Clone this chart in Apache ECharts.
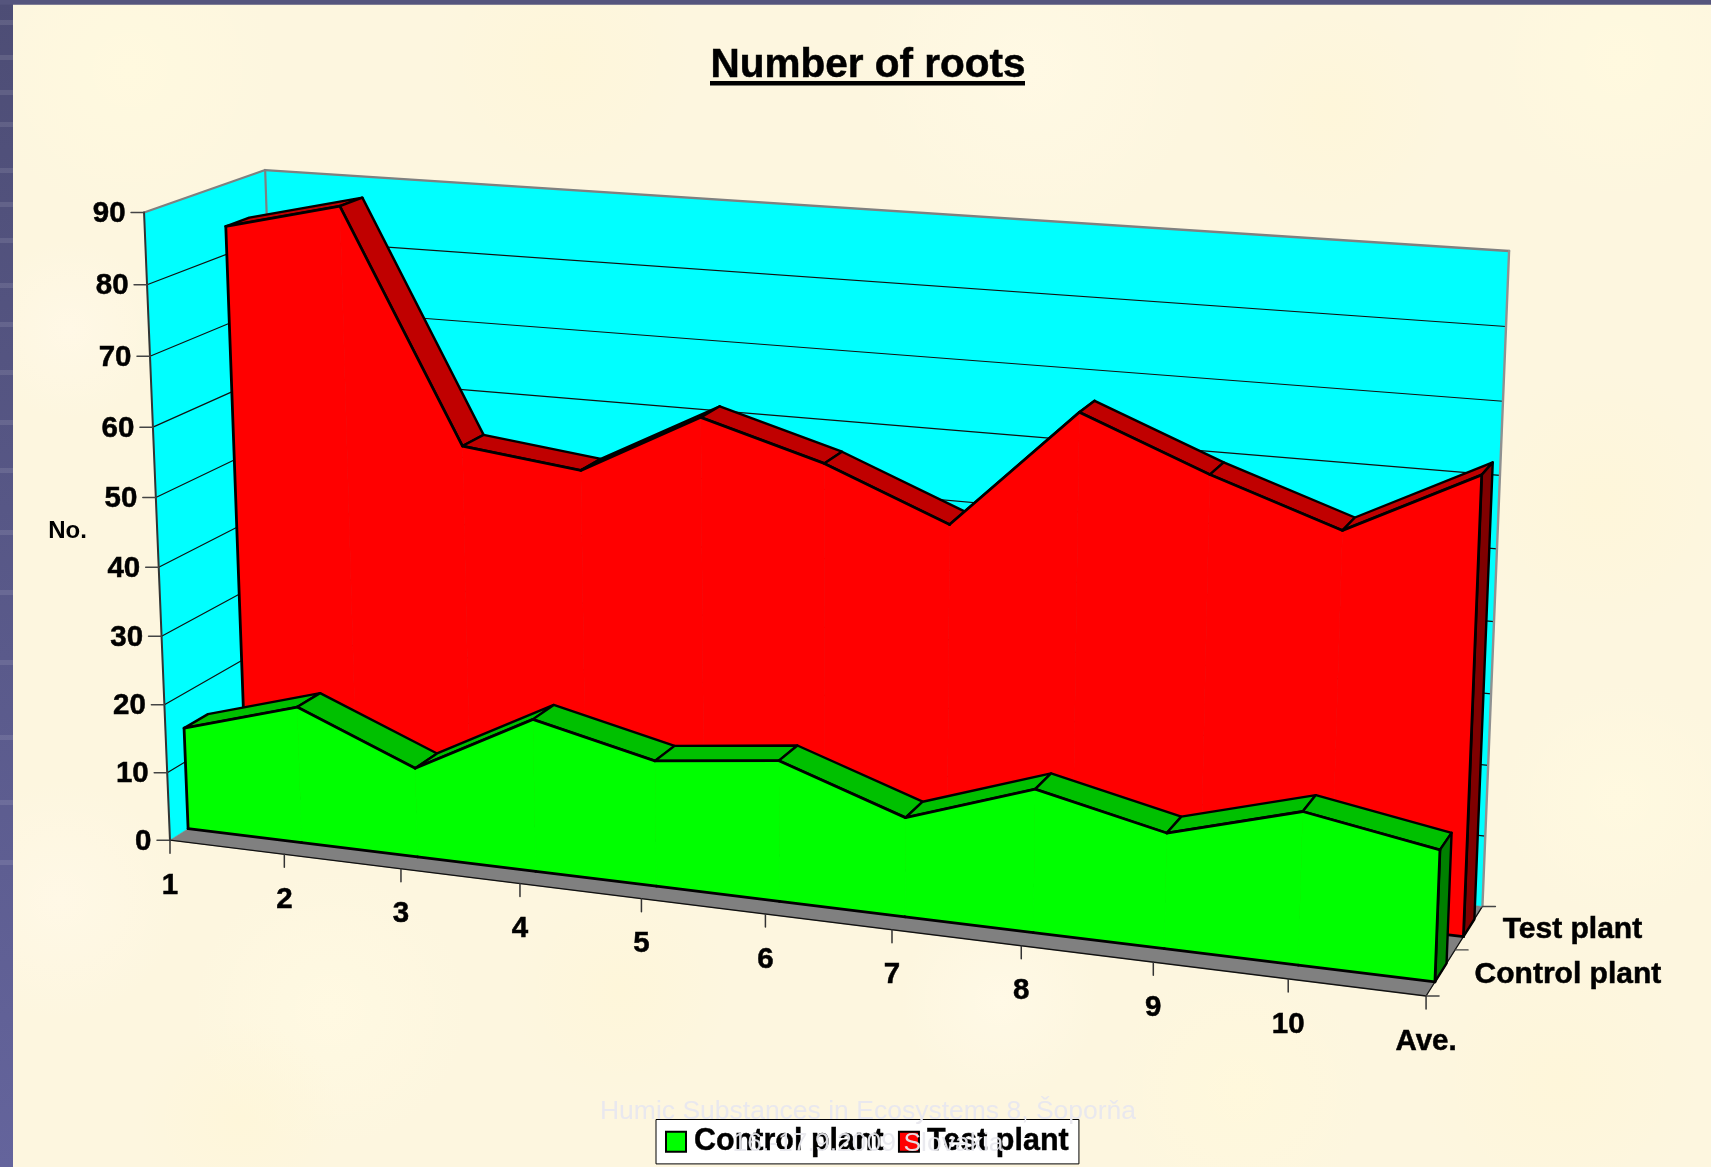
<!DOCTYPE html>
<html><head><meta charset="utf-8"><style>html,body{margin:0;padding:0;background:#fdf6df}#c{width:1711px;height:1167px}</style>
<script src="https://cdn.jsdelivr.net/npm/echarts@6/dist/echarts.min.js"></script></head>
<body><div id="c"></div>
<script>
// ---------- data ----------
const categories=['1','2','3','4','5','6','7','8','9','10','Ave.'];
const controlPlant=[15,20,13,22,18,20,14,20,16,21,17.9];
const testPlant=[84,88,55,53,62,57,50,67,60,54,63];
const valueTicks=[0,10,20,30,40,50,60,70,80,90];
const depthLabels=['Control plant','Test plant'];
const titleText='Number of roots';
const yName='No.';
const footerLines=['Humic Substances in Ecosystems 8, Šoporňa','16.-17.9.2009 Slovakia'];

// ---------- 3D view: projective camera calibrated from the frame ----------
const anchors=[[0,1,0,144,212.5],[0,0,0,170,840],[1,0,0,1425.7,995.7],[0,1,1,265,170],[1,1,1,1510,251],[1,0,1,1482,906],
[0,5/9,0,156,497],[0,2/9,0,165,705],[1,8/9,1,1505.7,326.7],[1,6/9,1,1499,475.7],[0.1,0,0,284,855],[0.5,0,0,765,914],[0.9,0,0,1287.6,979],[1,0,0.5,1457,950]];
function solve(A,b){const n=b.length;for(let i=0;i<n;i++){let m=i;for(let r=i+1;r<n;r++)if(Math.abs(A[r][i])>Math.abs(A[m][i]))m=r;[A[i],A[m]]=[A[m],A[i]];[b[i],b[m]]=[b[m],b[i]];for(let r=i+1;r<n;r++){const f=A[r][i]/A[i][i];for(let c=i;c<n;c++)A[r][c]-=f*A[i][c];b[r]-=f*b[i];}}const x=new Array(n);for(let i=n-1;i>=0;i--){let s=b[i];for(let c=i+1;c<n;c++)s-=A[i][c]*x[c];x[i]=s/A[i][i];}return x;}
const AtA=Array.from({length:11},()=>new Array(11).fill(0)),Atb=new Array(11).fill(0);
function add(row,t){for(let i=0;i<11;i++){Atb[i]+=row[i]*t;for(let j=0;j<11;j++)AtA[i][j]+=row[i]*row[j];}}
anchors.forEach(([X,Y,Z,sx,sy])=>{add([X,Y,Z,1,0,0,0,0,-sx*X,-sx*Y,-sx*Z],sx);add([0,0,0,0,X,Y,Z,1,-sy*X,-sy*Y,-sy*Z],sy);});
const cam=solve(AtA,Atb);
function proj(u,v,w){const d=cam[8]*u+cam[9]*v+cam[10]*w+1;return [(cam[0]*u+cam[1]*v+cam[2]*w+cam[3])/d,(cam[4]*u+cam[5]*v+cam[6]*w+cam[7])/d];}
// axis coordinate -> screen, through the grid's own scales
function pt(params,api,i,val,w){const c=api.coord([i,val]),s=params.coordSys;return proj((c[0]-s.x)/s.width,(s.y+s.height-c[1])/s.height,w);}

const FONT='"Liberation Sans", Arial, sans-serif';
const LAST=categories.length-1, MAXV=valueTicks[valueTicks.length-1];
const line=(a,b,stroke,lw,z2)=>({type:'line',silent:true,z2,shape:{x1:a[0],y1:a[1],x2:b[0],y2:b[1]},style:{stroke,lineWidth:lw,lineCap:'round'}});
const poly=(pts,fill,stroke,lw,z2)=>({type:'polygon',silent:true,z2,shape:{points:pts},style:{fill,stroke,lineWidth:lw,lineJoin:'round'}});
const label=(x,y,text,size,align)=>({type:'text',silent:true,z2:5,x,y,style:{text,font:'bold '+size+'px '+FONT,fill:'#000',stroke:'#000',lineWidth:0.5,align,verticalAlign:'middle',textAlign:align,textVerticalAlign:'middle'}});

function renderFrame(params,api){
  const val=api.value(1), ch=[];
  const P=(i,v,w)=>pt(params,api,i,v,w);
  if(params.dataIndex===0){
    ch.push(poly([P(0,0,0),P(0,MAXV,0),P(0,MAXV,1),P(0,0,1)],'#00ffff','#00ffff',0.5,0));
    ch.push(poly([P(0,0,1),P(0,MAXV,1),P(LAST,MAXV,1),P(LAST,0,1)],'#00ffff','#00ffff',0.5,0));
    ch.push(poly([P(0,0,0),P(LAST,0,0),P(LAST,0,1),P(0,0,1)],'#808080','#808080',0.5,1));
    ch.push(line(P(0,0,0),P(LAST,0,0),'#111',1.3,2));
    ch.push(line(P(LAST,0,0),P(LAST,0,1),'#111',1.3,2));
    ch.push(line(P(0,MAXV,0),P(0,MAXV,1),'#808080',2.2,3));
    ch.push(line(P(0,MAXV,1),P(LAST,MAXV,1),'#808080',2.4,3));
    ch.push(line(P(0,MAXV,1),P(0,0,1),'#808080',2.2,1));
    ch.push(line(P(LAST,MAXV,1),P(LAST,0,1),'#909090',2.4,3));
    ch.push(line(P(0,0,0),P(0,MAXV,0),'#333',2,3));
  }
  if(val>0&&val<MAXV){
    ch.push(line(P(0,val,0),P(0,val,1),'#111',1.2,2));
    ch.push(line(P(0,val,1),P(LAST,val,1),'#111',1.2,2));
  }
  const e=P(0,val,0);
  ch.push(line([e[0]-13,e[1]],e,'#444',1.5,3));
  ch.push(label(e[0]-18.5,e[1]+1.5,String(val),29.5,'right'));
  return {type:'group',children:ch};
}
function renderCat(params,api){
  const i=api.value(0),e=pt(params,api,i,0,0);
  return {type:'group',children:[line(e,[e[0],e[1]+13],'#333',1.5,3),label(e[0],e[1]+45.5,categories[i],29.5,'center')]};
}
function renderDepth(params,api){
  const k=params.dataIndex, ch=[];
  const D=w=>pt(params,api,LAST,0,w);
  if(k===0){const a=D(0);ch.push(line(a,[a[0]+13,a[1]],'#444',1.4,3));}
  const b=D(0.5*(k+1));ch.push(line(b,[b[0]+13,b[1]],'#444',1.4,3));
  const m=D(0.25+0.5*k);
  ch.push(label(m[0]+33.8,m[1]+1.7,depthLabels[k],30,'left'));
  return {type:'group',children:ch};
}
function renderArea(cfg){
  return function(params,api){
    const i=api.value(0),ch=[],vals=cfg.values;
    const F=(n,v)=>pt(params,api,n,v,cfg.w1),B=(n,v)=>pt(params,api,n,v,cfg.w2);
    const LW=2.8;
    if(i===0) ch.push(line(F(0,vals[0]),F(0,0),'#000',LW,6));
    if(i<LAST){
      const v0=api.value(1),v1=vals[i+1];
      ch.push(poly([F(i,v0),F(i+1,v1),B(i+1,v1),B(i,v0)],cfg.top,'#000',2.4,1));
      ch.push(poly([F(i,0),F(i,v0),F(i+1,v1),F(i+1,0)],cfg.front,cfg.front,0.8,4));
      ch.push(line(F(i,v0),F(i+1,v1),'#000',LW,6));
      ch.push(line(F(i,0),F(i+1,0),'#000',LW,6));
    }else{
      const v=api.value(1);
      ch.push(poly([F(i,0),F(i,v),B(i,v),B(i,0)],cfg.side,'#000',2.4,2));
      ch.push(line(F(i,v),F(i,0),'#000',LW,6));
    }
    return {type:'group',children:ch};
  };
}
const custom=(name,data,renderItem,z,color)=>({type:'custom',name,data,renderItem,z,clip:false,silent:true,animation:false,encode:{x:0,y:1},itemStyle:color?{color}:undefined});

// ---------- page decoration ----------
const deco=[{type:'rect',z:-5,shape:{x:0,y:0,width:1711,height:1167},style:{fill:'#fdf6df'}}];
// soft mottling of the slide paper
[[130,70,150,'#fff9df'],[560,60,130,'#fef6da'],[1030,70,170,'#fff9e4'],[1330,110,120,'#fef6da'],[1620,60,140,'#fff9df'],[70,330,90,'#fff8e6'],
 [60,900,120,'#fff8e6'],[330,1010,140,'#fff9e2'],[620,990,110,'#fef6da'],[1000,1000,100,'#fff9e6'],[1240,1090,130,'#fff8dc'],[1600,500,130,'#fef6da'],[1620,800,120,'#fff9e0'],[1560,1080,140,'#fef6da'],[240,1120,100,'#fef6da']]
 .forEach(([cx,cy,r,c])=>deco.push({type:'circle',z:-4.5,shape:{cx,cy,r},style:{fill:new echarts.graphic.RadialGradient(0.5,0.5,0.5,[{offset:0,color:c},{offset:1,color:c+'00'}])}}));
deco.push({type:'rect',z:-4,shape:{x:0,y:0,width:13,height:1167},style:{fill:new echarts.graphic.LinearGradient(0,0,0,1,[{offset:0,color:'#4d4d75'},{offset:1,color:'#64649c'}])}});
deco.push({type:'rect',z:-4,shape:{x:0,y:0,width:1711,height:4.7},style:{fill:'#55557d'}});
[20,55,90,122,168,202,238,283,322,370,420,468,530,590,660,735,800,860].forEach(y=>deco.push({type:'rect',z:-3,shape:{x:0,y,width:13,height:5},style:{fill:'rgba(255,255,255,0.1)'}}));
deco.push({type:'rect',z:10,shape:{x:710,y:81,width:315,height:4.6},style:{fill:'#000'}});
deco.push({type:'text',z:10,x:67.5,y:531,style:{text:yName,font:'bold 24px '+FONT,fill:'#000',align:'center',verticalAlign:'middle'}});
footerLines.forEach((t,k)=>deco.push({type:'text',z:1000,x:868,y:1112+k*32,style:{text:t,font:'26.5px '+FONT,fill:k===0?'#e9e8ee':'rgba(233,233,238,0.94)',align:'center',verticalAlign:'middle'}}));

const chart=echarts.init(document.getElementById('c'));
chart.setOption({
  animation:false,
  backgroundColor:'#fdf6df',
  title:{text:titleText,left:868,top:45,textAlign:'center',padding:0,textStyle:{fontFamily:FONT,fontWeight:'bold',fontSize:40.5,color:'#000',textBorderColor:'#000',textBorderWidth:0.5}},
  grid:{left:200,top:200,width:1200,height:700,show:false},
  xAxis:{type:'category',data:categories,boundaryGap:false,show:false},
  yAxis:{type:'value',min:0,max:MAXV,interval:10,show:false},
  tooltip:{show:false},
  legend:{left:656,top:1119.5,orient:'horizontal',padding:[6.5,10,6.5,9],itemGap:14,itemWidth:20,itemHeight:20,
    backgroundColor:'#fff',borderColor:'#000',borderWidth:1,selectedMode:false,
    textStyle:{fontFamily:FONT,fontWeight:'bold',fontSize:30.5,color:'#000',padding:[2,0,0,3],textBorderColor:'#000',textBorderWidth:0.4},
    data:[{name:'Control plant',icon:'rect',itemStyle:{color:'#00ff00',borderColor:'#000',borderWidth:2}},
          {name:'Test plant',icon:'rect',itemStyle:{color:'#ff0000',borderColor:'#000',borderWidth:2}}]},
  graphic:deco,
  series:[
    custom('frame',valueTicks.map(v=>[0,v]),renderFrame,1),
    custom('categoryTicks',categories.map((c,i)=>[i,0]),renderCat,2),
    custom('depthTicks',depthLabels.map(()=>[LAST,0]),renderDepth,2),
    custom('Test plant',testPlant.map((v,i)=>[i,v]),renderArea({values:testPlant,w1:0.65,w2:0.85,front:'#ff0000',top:'#c00000',side:'#800000'}),3,'#ff0000'),
    custom('Control plant',controlPlant.map((v,i)=>[i,v]),renderArea({values:controlPlant,w1:0.15,w2:0.35,front:'#00ff00',top:'#00c000',side:'#008000'}),4,'#00ff00')
  ]
});
</script></body></html>
